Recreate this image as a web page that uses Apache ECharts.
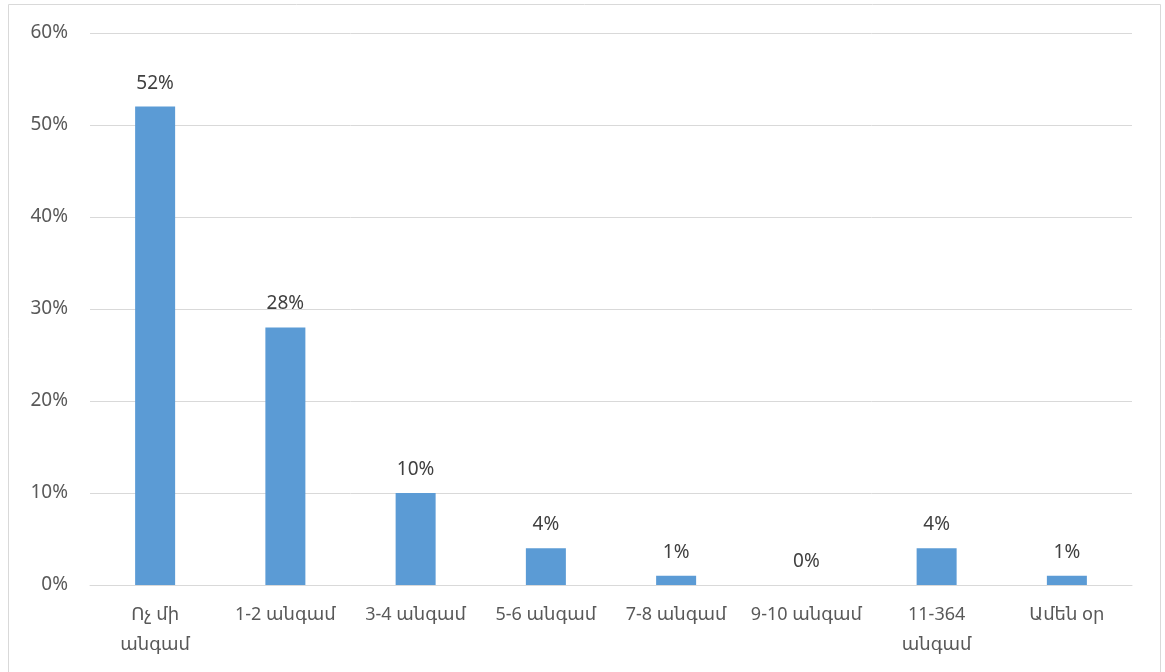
<!DOCTYPE html>
<html>
<head>
<meta charset="utf-8">
<script src="https://cdn.jsdelivr.net/npm/echarts@6/dist/echarts.min.js"></script>
<style>
html,body{margin:0;padding:0;background:#fff;}
#c{width:1165px;height:672px;}
</style>
</head>
<body>
<div id="c"></div>
<script>
var categories = ['Ոչ մի\nանգամ', '1-2 անգամ', '3-4 անգամ', '5-6 անգամ', '7-8 անգամ', '9-10 անգամ', '11-364\nանգամ', 'Ամեն օր'];
var values = [52, 28, 10, 4, 1, 0, 4, 1];
var yTicks = [0, 10, 20, 30, 40, 50, 60];

var FONT = '"Noto Sans", "DejaVu Sans", sans-serif';
var chart = echarts.init(document.getElementById('c'));
chart.setOption({
  animation: false,
  graphic: [{
    type: 'rect',
    shape: {x: 8.5, y: 4.5, width: 1152, height: 700},
    style: {fill: 'none', stroke: '#d9d9d9', lineWidth: 1},
    silent: true
  }],
  grid: {left: 90, right: 33, top: 33, bottom: 87, containLabel: false},
  xAxis: {
    type: 'category',
    data: categories,
    axisLine: {lineStyle: {color: '#d9d9d9', width: 1}},
    axisTick: {show: false},
    axisLabel: {color: '#595959', fontSize: 18, fontFamily: FONT, margin: 15, lineHeight: 30, interval: 0}
  },
  yAxis: {
    type: 'value',
    min: yTicks[0],
    max: yTicks[yTicks.length - 1],
    interval: 10,
    axisLine: {show: false},
    axisTick: {show: false},
    splitLine: {lineStyle: {color: '#d9d9d9', width: 1}},
    axisLabel: {color: '#595959', fontSize: 19, fontFamily: FONT, margin: 22, formatter: '{value}%'}
  },
  series: [{
    type: 'bar',
    data: values,
    barWidth: 40,
    itemStyle: {color: '#5b9bd5'},
    label: {show: true, position: 'top', distance: 14, color: '#404040', fontSize: 19, fontFamily: FONT, formatter: '{c}%'}
  }]
});
</script>
</body>
</html>
